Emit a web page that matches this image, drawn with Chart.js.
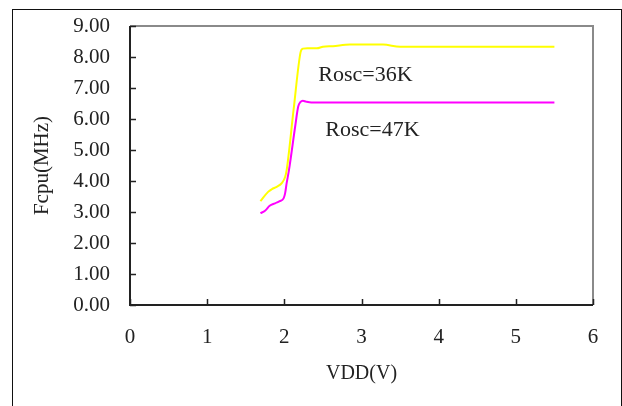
<!DOCTYPE html>
<html>
<head>
<meta charset="utf-8">
<script src="https://cdn.jsdelivr.net/npm/chart.js@4"></script>
<style>
  html, body { margin: 0; padding: 0; background: #fff; }
  #wrap { position: relative; width: 622px; height: 406px; }
  #frame { position: absolute; left: 12px; top: 9px; width: 608px; height: 420px; border: 1px solid #111; pointer-events: none; }
</style>
</head>
<body>
<div id="wrap">
  <canvas id="chart" width="622" height="406"></canvas>
  <div id="frame"></div>
</div>
<script>
// datos
const vdd36 = [1.69, 1.79, 1.84, 1.90, 1.97, 2.01, 2.03, 2.12, 2.21, 2.24, 2.30, 2.42, 2.50, 2.63, 2.85, 3.28, 3.50, 4.00, 5.00, 5.50];
const fcpu36 = [3.35, 3.65, 3.74, 3.81, 3.94, 4.13, 4.35, 6.30, 8.15, 8.27, 8.28, 8.28, 8.33, 8.35, 8.40, 8.40, 8.33, 8.33, 8.33, 8.33];
const vdd47 = [1.69, 1.75, 1.81, 1.88, 1.94, 1.99, 2.01, 2.03, 2.06, 2.14, 2.18, 2.21, 2.24, 2.28, 2.35, 3.00, 4.00, 5.00, 5.50];
const fcpu47 = [2.96, 3.04, 3.20, 3.28, 3.35, 3.44, 3.60, 3.93, 4.35, 5.75, 6.40, 6.55, 6.59, 6.56, 6.53, 6.53, 6.53, 6.53, 6.53];
const seriesNames = ['Rosc=36K', 'Rosc=47K'];
const xTitle = 'VDD(V)';
const yTitle = 'Fcpu(MHz)';

const serif = "'Liberation Serif', 'Times New Roman', serif";
const textColor = '#222';

const toPoints = (xs, ys) => xs.map((x, i) => ({ x: x, y: ys[i] }));

// marco del área: bordes grises arriba/derecha, ticks hacia dentro
const framePlugin = {
    id: 'plotFrame',
    afterDraw(chart) {
        const { ctx, chartArea: a, scales } = chart;
        ctx.save();
        ctx.lineWidth = 2;
        ctx.strokeStyle = '#8a8a8a';
        ctx.beginPath();
        ctx.moveTo(a.left, a.top);
        ctx.lineTo(a.right, a.top);
        ctx.lineTo(a.right, a.bottom);
        ctx.stroke();
        ctx.strokeStyle = '#222';
        ctx.beginPath();
        ctx.moveTo(a.left, a.top);
        ctx.lineTo(a.left, a.bottom);
        ctx.lineTo(a.right, a.bottom);
        ctx.stroke();
        ctx.lineWidth = 1.5;
        ctx.beginPath();
        scales.y.ticks.forEach(t => {
            const py = Math.round(scales.y.getPixelForValue(t.value)) + 0.5;
            ctx.moveTo(a.left, py);
            ctx.lineTo(a.left + 6, py);
        });
        scales.x.ticks.forEach(t => {
            const px = Math.round(scales.x.getPixelForValue(t.value)) + 0.5;
            ctx.moveTo(px, a.bottom);
            ctx.lineTo(px, a.bottom - 6);
        });
        ctx.stroke();
        ctx.restore();
    }
};

// etiquetas de las curvas
const labelPlugin = {
    id: 'curveLabels',
    afterDatasetsDraw(chart, args, opts) {
        const { ctx, scales } = chart;
        ctx.save();
        ctx.fillStyle = textColor;
        ctx.font = opts.font;
        ctx.textAlign = 'left';
        ctx.textBaseline = 'middle';
        opts.items.forEach((it, i) => {
            ctx.fillText(seriesNames[i], scales.x.getPixelForValue(it.x), scales.y.getPixelForValue(it.y));
        });
        ctx.restore();
    }
};

new Chart(document.getElementById('chart'), {
    type: 'line',
    data: {
        datasets: [{
            label: seriesNames[0],
            data: toPoints(vdd36, fcpu36),
            borderColor: '#ffff00',
            borderWidth: 2,
            pointRadius: 0,
            cubicInterpolationMode: 'monotone',
            fill: false
        }, {
            label: seriesNames[1],
            data: toPoints(vdd47, fcpu47),
            borderColor: '#ff00ff',
            borderWidth: 2,
            pointRadius: 0,
            cubicInterpolationMode: 'monotone',
            fill: false
        }]
    },
    options: {
        responsive: false,
        animation: false,
        layout: { padding: { top: 26, right: 29, left: 0, bottom: 0 } },
        plugins: {
            legend: { display: false },
            tooltip: { enabled: false },
            curveLabels: {
                font: '22px ' + serif,
                items: [{ x: 2.44, y: 7.42 }, { x: 2.53, y: 5.65 }]
            }
        },
        scales: {
            x: {
                type: 'linear',
                min: 0,
                max: 6,
                afterFit: s => { s.height = 101; },
                grid: { display: false, drawTicks: false },
                border: { display: false },
                ticks: { stepSize: 1, padding: 20, color: textColor, font: { family: serif, size: 21 } },
                title: { display: true, text: xTitle, color: textColor, font: { family: serif, size: 20 }, padding: { top: 6, bottom: 20 } }
            },
            y: {
                min: 0,
                max: 9,
                // ancho fijo y sin relleno extra arriba/abajo
                afterFit: s => { s.width = 130; s.paddingTop = 0; s.paddingBottom = 0; },
                grid: { display: false, drawTicks: false },
                border: { display: false },
                ticks: { stepSize: 1, padding: 20, color: textColor, font: { family: serif, size: 21 },
                         callback: v => v.toFixed(2) },
                title: { display: true, text: yTitle, color: textColor, font: { family: serif, size: 21 }, padding: { top: 30 } }
            }
        }
    },
    plugins: [framePlugin, labelPlugin]
});
</script>
</body>
</html>
